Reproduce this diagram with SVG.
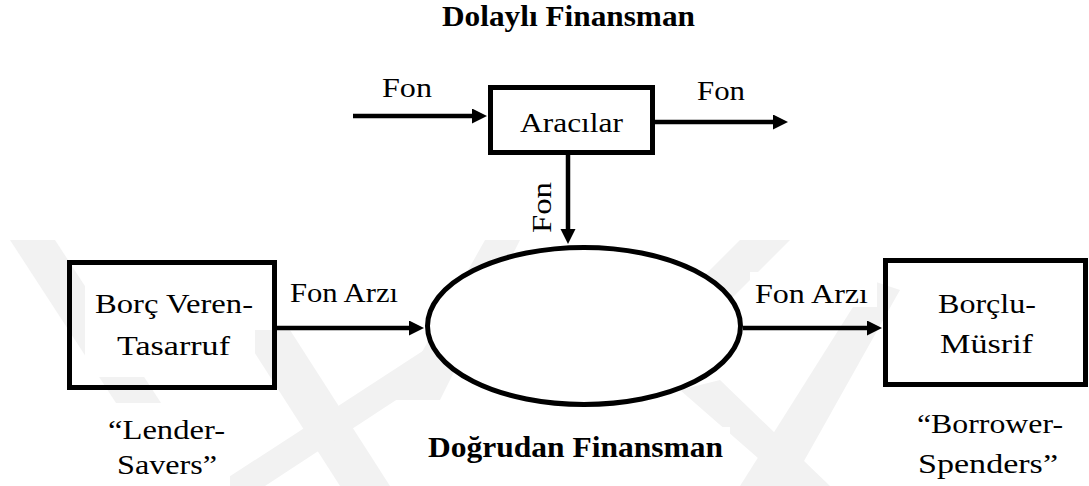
<svg xmlns="http://www.w3.org/2000/svg" width="1089" height="486" viewBox="0 0 1089 486">
  <style>
    text { font-family: 'Liberation Serif', 'DejaVu Serif', 'Times New Roman', serif; fill: #000; }
    .t { font-size: 27px; }
    .b { font-size: 30px; font-weight: bold; }
    .box { fill: none; stroke: #000; stroke-width: 5; }
    .wm { fill: #f2f2f2; }
    .bg { fill: #fff; }
    .c { stroke: #000; stroke-width: 4.5; fill: none; marker-end: url(#ah); }
  </style>
  <defs>
    <marker id="ah" markerUnits="userSpaceOnUse" markerWidth="16" markerHeight="16" refX="2" refY="7.5" orient="auto">
      <path d="M0,0 L15,7.5 L0,15 Z" fill="#000"/>
    </marker>
  </defs>
  <rect width="1089" height="486" fill="#fff"/>
  <g id="watermark">
    <polygon class="wm" points="10,240 55,240 215,486 170,486"/>
    <polygon class="wm" points="240,330 290,330 390,486 340,486"/>
    <polygon class="wm" points="215,486 265,486 480,345 455,330"/>
    <polygon class="wm" points="395,400 440,400 520,240 485,240"/>
    <polygon class="wm" points="740,240 790,240 700,330 660,320"/>
    <polygon class="wm" points="680,390 720,380 830,486 790,486"/>
    <polygon class="wm" points="740,486 790,486 900,290 870,280"/>
  </g>
  <g id="title-indirect">
    <text class="b" font-family="Liberation Serif, serif" x="442" y="26" textLength="253" lengthAdjust="spacingAndGlyphs">Dolaylı Finansman</text>
  </g>
  <g id="connectors">
    <line class="c" x1="353" y1="116" x2="474" y2="116"/>
    <line class="c" x1="655" y1="122" x2="775" y2="122"/>
    <line class="c" x1="568" y1="155" x2="568" y2="231"/>
    <line class="c" x1="277" y1="328" x2="411" y2="328"/>
    <line class="c" x1="743" y1="328" x2="869" y2="328"/>
  </g>
  <g id="labels">
    <text class="t" x="382" y="97" textLength="50" lengthAdjust="spacingAndGlyphs">Fon</text>
    <text class="t" x="697" y="100" textLength="48" lengthAdjust="spacingAndGlyphs">Fon</text>
    <text class="t" transform="translate(551,233) rotate(-90)" x="0" y="0" textLength="51" lengthAdjust="spacingAndGlyphs">Fon</text>
    <rect class="bg" x="283" y="273" width="120" height="40"/>
    <text class="t" x="290" y="302" textLength="108" lengthAdjust="spacingAndGlyphs">Fon Arzı</text>
    <rect class="bg" x="750" y="272" width="127" height="35"/>
    <text class="t" x="755" y="303" textLength="113" lengthAdjust="spacingAndGlyphs">Fon Arzı</text>
  </g>
  <g id="node-aracilar">
    <rect class="box" x="490.5" y="87.5" width="162" height="65" fill="#fff"/>
    <text class="t" x="520" y="132" textLength="103" lengthAdjust="spacingAndGlyphs">Aracılar</text>
  </g>
  <g id="node-market">
    <ellipse cx="584" cy="326" rx="156.5" ry="78.5" fill="#fff" stroke="#000" stroke-width="5"/>
    <rect class="bg" x="420" y="427" width="310" height="43"/>
    <text class="b" x="428" y="457" textLength="295" lengthAdjust="spacingAndGlyphs">Doğrudan Finansman</text>
  </g>
  <g id="node-lender">
    <rect class="bg" x="85" y="282" width="170" height="95"/>
    <rect class="box" x="69.5" y="262.5" width="205" height="125"/>
    <text class="t" x="95" y="313" textLength="158" lengthAdjust="spacingAndGlyphs">Borç Veren-</text>
    <text class="t" x="117" y="355" textLength="113" lengthAdjust="spacingAndGlyphs">Tasarruf</text>
    <rect class="bg" x="103" y="403" width="127" height="83"/>
    <text class="t" x="108" y="439" textLength="117" lengthAdjust="spacingAndGlyphs">“Lender-</text>
    <text class="t" x="117" y="474" textLength="100" lengthAdjust="spacingAndGlyphs">Savers”</text>
  </g>
  <g id="node-borrower">
    <rect class="box" x="885.5" y="260.5" width="200" height="124" fill="#fff"/>
    <text class="t" x="938" y="313" textLength="98" lengthAdjust="spacingAndGlyphs">Borçlu-</text>
    <text class="t" x="940" y="353" textLength="93" lengthAdjust="spacingAndGlyphs">Müsrif</text>
    <rect class="bg" x="913" y="417" width="154" height="69"/>
    <text class="t" x="917" y="433" textLength="146" lengthAdjust="spacingAndGlyphs">“Borrower-</text>
    <text class="t" x="918" y="473" textLength="140" lengthAdjust="spacingAndGlyphs">Spenders”</text>
  </g>
</svg>
